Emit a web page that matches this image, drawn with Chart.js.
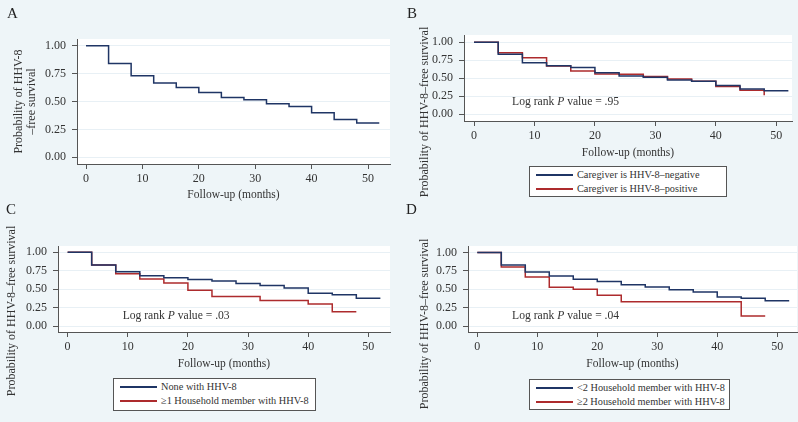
<!DOCTYPE html>
<html>
<head>
<meta charset="utf-8">
<title>HHV-8-free survival</title>
<script src="https://cdn.jsdelivr.net/npm/chart.js@4.4.0/dist/chart.umd.min.js"></script>
<style>
  body { margin: 0; background: #eef5f8; }
  #fig { position: relative; width: 798px; height: 422px; background: #eef5f8; overflow: hidden;
         font-family: "Liberation Serif", serif; color: #333; }
  #fig canvas { position: absolute; }
  .lbl { position: absolute; font-size: 15px; line-height: 15px; color: #222; }
  .legend { position: absolute; background: #fff; border: 1px solid #555; box-sizing: border-box;
            font-size: 10.3px; padding: 1px 0 0 6px; }
  .legend .row { height: 14px; line-height: 14px; white-space: nowrap; display: flex; align-items: center; }
  .legend .key { display: block; flex: none; width: 37px; height: 1.5px; margin-right: 4px; }
</style>
</head>
<body>
<div id="fig">
  <canvas id="cA" width="400" height="210" style="left:0;top:0"></canvas>
  <canvas id="cB" width="398" height="210" style="left:400px;top:0"></canvas>
  <canvas id="cC" width="400" height="212" style="left:0;top:210px"></canvas>
  <canvas id="cD" width="398" height="212" style="left:400px;top:210px"></canvas>
  <div class="lbl" style="left:7px;top:6px">A</div>
  <div class="lbl" style="left:407px;top:6px">B</div>
  <div class="lbl" style="left:6px;top:202px">C</div>
  <div class="lbl" style="left:406px;top:202px">D</div>
  <div class="legend" id="legB" style="left:529px;top:166px;width:198px;height:31px"></div>
  <div class="legend" id="legC" style="left:113px;top:378px;width:203px;height:33px"></div>
  <div class="legend" id="legD" style="left:529px;top:379px;width:201px;height:31px"></div>
</div>
<script>
// follow-up times (months) and tick labels
const months = [0, 4, 8, 12, 16, 20, 24, 28, 32, 36, 40, 44, 48, 52];
const xTicks = [0, 10, 20, 30, 40, 50];
const yTicks = [0, 0.25, 0.5, 0.75, 1];

// Kaplan-Meier estimates, one value per month in `months`
const survA = [1.00, 0.84, 0.73, 0.665, 0.625, 0.58, 0.535, 0.515, 0.48, 0.455, 0.40, 0.338, 0.308, 0.308];
const survBNeg = [1.00, 0.832, 0.714, 0.673, 0.65, 0.577, 0.532, 0.514, 0.477, 0.46, 0.40, 0.35, 0.327, 0.327];
const survBPos = [1.00, 0.855, 0.786, 0.67, 0.60, 0.56, 0.555, 0.523, 0.49, 0.46, 0.386, 0.332, 0.264];
const survCNone = [1.00, 0.827, 0.736, 0.68, 0.655, 0.632, 0.61, 0.577, 0.55, 0.514, 0.445, 0.423, 0.377, 0.377];
const survCAny = [1.00, 0.827, 0.709, 0.636, 0.582, 0.486, 0.40, 0.40, 0.345, 0.345, 0.30, 0.195, 0.195];
const survDLt2 = [1.00, 0.832, 0.736, 0.68, 0.636, 0.605, 0.564, 0.532, 0.495, 0.464, 0.395, 0.377, 0.345, 0.345];
const survDGe2 = [1.00, 0.805, 0.668, 0.527, 0.50, 0.418, 0.332, 0.332, 0.332, 0.332, 0.332, 0.136, 0.136];

const namesB = ["Caregiver is HHV-8–negative", "Caregiver is HHV-8–positive"];
const namesC = ["None with HHV-8", "≥1 Household member with HHV-8"];
const namesD = ["<2 Household member with HHV-8", "≥2 Household member with HHV-8"];
const pValues = { B: ".95", C: ".03", D: ".04" };

const BLUE = "#1f3565";
const RED = "#ad2b2d";
const AXIS = "#555";
const FONT = '"Liberation Serif", serif';

Chart.defaults.font.family = FONT;
Chart.defaults.color = "#333";

// white plot region
const plotBg = {
  id: "plotBg",
  beforeDraw(chart) {
    const { ctx, chartArea: a } = chart;
    ctx.save();
    ctx.fillStyle = "#fff";
    ctx.fillRect(a.left, a.top, a.right - a.left, a.bottom - a.top);
    ctx.restore();
  }
};

// y title centred on the whole panel (not just the axis)
const sideTitle = {
  id: "sideTitle",
  afterDraw(chart, args, o) {
    if (!o.text) return;
    const ctx = chart.ctx;
    ctx.save();
    ctx.translate(o.x, o.y);
    ctx.rotate(-Math.PI / 2);
    ctx.font = "12px " + FONT;
    ctx.fillStyle = "#333";
    ctx.textAlign = "center";
    ctx.textBaseline = "middle";
    ctx.fillText(o.text, 0, 0);
    ctx.restore();
  }
};

// "Log rank P value = ..." placed in data coordinates
const note = {
  id: "note",
  afterDatasetsDraw(chart, args, o) {
    if (o.p === undefined) return;
    const ctx = chart.ctx;
    let x = chart.scales.x.getPixelForValue(o.x);
    const y = chart.scales.y.getPixelForValue(o.y);
    const parts = [["Log rank ", ""], ["P", "italic "], [" value = " + o.p, ""]];
    ctx.save();
    ctx.fillStyle = "#333";
    ctx.textBaseline = "middle";
    parts.forEach(([t, st]) => {
      ctx.font = st + "11.6px " + FONT;
      ctx.fillText(t, x, y);
      x += ctx.measureText(t).width;
    });
    ctx.restore();
  }
};

function series(vals, color) {
  return {
    data: vals.map((v, i) => ({ x: months[i], y: v })),
    borderColor: color,
    borderWidth: 1.5,
    stepped: "before",
    pointRadius: 0,
    fill: false
  };
}

function makeChart(id, p) {
  return new Chart(document.getElementById(id), {
    type: "line",
    data: { datasets: p.datasets },
    plugins: [plotBg, sideTitle, note],
    options: {
      responsive: false,
      animation: false,
      layout: { padding: p.pad },
      plugins: {
        legend: { display: false },
        tooltip: { enabled: false },
        sideTitle: p.side || {},
        note: p.note || {}
      },
      scales: {
        x: {
          type: "linear",
          min: p.x[0], max: p.x[1],
          afterBuildTicks: ax => { ax.ticks = xTicks.map(v => ({ value: v })); },
          afterFit: s => { s.height = p.xH; },
          ticks: { font: { size: 12 }, padding: 3, maxRotation: 0, autoSkip: false },
          grid: { drawOnChartArea: false, tickLength: 5, tickColor: AXIS },
          border: { color: AXIS },
          title: { display: true, text: "Follow-up (months)", font: { size: 11.5 }, padding: 0 }
        },
        y: {
          min: p.y[0], max: p.y[1],
          afterBuildTicks: ax => { ax.ticks = yTicks.map(v => ({ value: v })); },
          afterFit: s => { s.width = p.yW; },
          ticks: { font: { size: 12 }, padding: 6, callback: v => Number(v).toFixed(2) },
          grid: { color: "#e8f0f5", tickLength: 5, tickColor: AXIS },
          border: { color: AXIS },
          title: p.yTitle || { display: false }
        }
      }
    }
  });
}

makeChart("cA", {
  datasets: [series(survA, BLUE)],
  pad: { top: 39, right: 10, left: 0, bottom: 8 },
  yW: 77, xH: 38,
  x: [-1.6, 53.9], y: [-0.06, 1.06],
  yTitle: {
    display: true,
    text: ["Probability of HHV-8", "–free survival"],
    font: { size: 12, lineHeight: 1.1 },
    padding: { top: 12, bottom: 0 }
  }
});

makeChart("cB", {
  datasets: [series(survBNeg, BLUE), series(survBPos, RED)],
  pad: { top: 35, right: 6, left: 0, bottom: 50 },
  yW: 64, xH: 39,
  x: [-1.66, 52.6], y: [-0.093, 1.10],
  side: { text: "Probability of HHV-8–free survival", x: 25, y: 112 },
  note: { p: pValues.B, x: 6.3, y: 0.171 }
});

makeChart("cC", {
  datasets: [series(survCNone, BLUE), series(survCAny, RED)],
  pad: { top: 36, right: 10, left: 0, bottom: 51 },
  yW: 58, xH: 39,
  x: [-1.6, 53.6], y: [-0.081, 1.085],
  side: { text: "Probability of HHV-8–free survival", x: 11.5, y: 101 },
  note: { p: pValues.C, x: 9.15, y: 0.136 }
});

makeChart("cD", {
  datasets: [series(survDLt2, BLUE), series(survDGe2, RED)],
  pad: { top: 36, right: 1, left: 0, bottom: 51 },
  yW: 68, xH: 39,
  x: [-1.55, 53.3], y: [-0.081, 1.09],
  side: { text: "Probability of HHV-8–free survival", x: 25, y: 114 },
  note: { p: pValues.D, x: 5.8, y: 0.136 }
});

// legends
function legend(id, names) {
  const box = document.getElementById(id);
  [BLUE, RED].forEach((c, i) => {
    const row = document.createElement("div");
    row.className = "row";
    const key = document.createElement("span");
    key.className = "key";
    key.style.background = c;
    row.appendChild(key);
    row.appendChild(document.createTextNode(names[i]));
    box.appendChild(row);
  });
}
legend("legB", namesB);
legend("legC", namesC);
legend("legD", namesD);
</script>
</body>
</html>
